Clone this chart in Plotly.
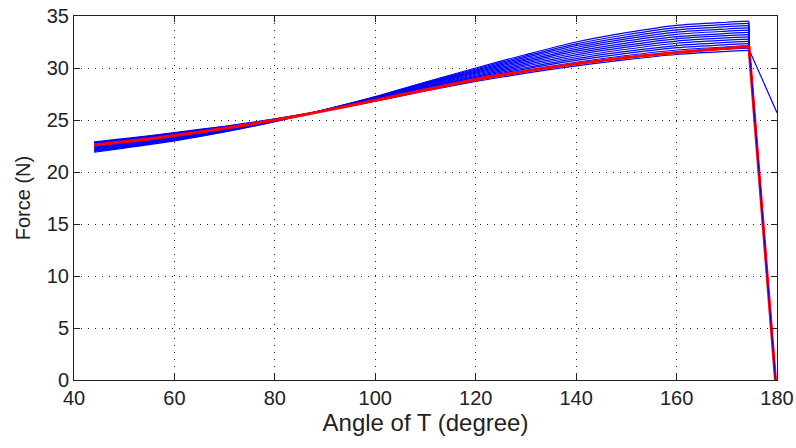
import plotly.graph_objects as go

# Angle samples (degree) shared by all curves
angle = [44, 50, 60, 70, 80, 90, 100, 110, 120, 130, 140, 150, 160, 170, 174.4]

# Blue family of force curves (N)
force_blue = [
    [22.90, 23.20, 23.80, 24.40, 25.10, 25.90, 26.80, 27.80, 28.70, 29.50, 30.20, 30.80, 31.30, 31.60, 31.70],
    [22.82, 23.13, 23.74, 24.36, 25.08, 25.91, 26.83, 27.87, 28.80, 29.64, 30.38, 31.00, 31.52, 31.82, 31.92],
    [22.75, 23.06, 23.68, 24.32, 25.06, 25.92, 26.87, 27.93, 28.90, 29.78, 30.55, 31.20, 31.73, 32.03, 32.13],
    [22.67, 22.99, 23.62, 24.27, 25.04, 25.92, 26.90, 28.00, 29.00, 29.92, 30.73, 31.40, 31.95, 32.25, 32.35],
    [22.59, 22.92, 23.55, 24.23, 25.02, 25.93, 26.94, 28.06, 29.10, 30.05, 30.91, 31.60, 32.16, 32.46, 32.56],
    [22.52, 22.85, 23.49, 24.19, 25.00, 25.94, 26.97, 28.13, 29.20, 30.19, 31.08, 31.80, 32.38, 32.68, 32.78],
    [22.44, 22.79, 23.43, 24.15, 24.98, 25.95, 27.01, 28.19, 29.30, 30.33, 31.26, 32.00, 32.59, 32.89, 32.99],
    [22.36, 22.72, 23.37, 24.10, 24.97, 25.95, 27.04, 28.26, 29.40, 30.47, 31.44, 32.20, 32.81, 33.11, 33.21],
    [22.29, 22.65, 23.31, 24.06, 24.95, 25.96, 27.08, 28.32, 29.50, 30.61, 31.62, 32.40, 33.02, 33.32, 33.42],
    [22.21, 22.58, 23.25, 24.02, 24.93, 25.97, 27.11, 28.39, 29.60, 30.75, 31.79, 32.60, 33.24, 33.54, 33.64],
    [22.13, 22.51, 23.18, 23.98, 24.91, 25.98, 27.15, 28.45, 29.70, 30.88, 31.97, 32.80, 33.45, 33.75, 33.85],
    [22.05, 22.44, 23.12, 23.94, 24.89, 25.98, 27.18, 28.52, 29.80, 31.02, 32.15, 33.00, 33.67, 33.97, 34.07],
    [21.98, 22.37, 23.06, 23.89, 24.87, 25.99, 27.22, 28.59, 29.90, 31.16, 32.32, 33.20, 33.89, 34.19, 34.29],
    [21.90, 22.30, 23.00, 23.85, 24.85, 26.00, 27.25, 28.65, 30.00, 31.30, 32.50, 33.40, 34.10, 34.40, 34.50],
]

# Drop-off tails (after the last sample of each curve)
tail_angle = [174.5, 179.7]
tail_force = [31.7, 0.0]
tail_angle_alt = [174.5, 180.0]
tail_force_alt = [31.7, 25.7]

# Red highlighted curve
force_red = [22.60, 22.90, 23.50, 24.20, 25.00, 25.90, 26.90, 27.90, 28.90, 29.70, 30.40, 31.00, 31.50, 31.90, 32.10]
red_tail_angle = [179.7]
red_tail_force = [0.0]

x_ticks = [40, 60, 80, 100, 120, 140, 160, 180]
y_ticks = [0, 5, 10, 15, 20, 25, 30, 35]

BLUE = "#0000FF"
RED = "#FF0000"
FONT = "Liberation Sans"
TXT = "#222222"

fig = go.Figure()
for i, curve in enumerate(force_blue):
    tx, ty = (tail_angle_alt, tail_force_alt) if i == 0 else (tail_angle, tail_force)
    # smooth body
    fig.add_trace(go.Scatter(x=angle, y=curve, mode="lines",
                             line=dict(color=BLUE, width=1.2, shape="spline", smoothing=0.8),
                             showlegend=False, hoverinfo="skip"))
    # straight drop-off
    fig.add_trace(go.Scatter(x=[angle[-1]] + tx, y=[curve[-1]] + ty, mode="lines",
                             line=dict(color=BLUE, width=1.2),
                             showlegend=False, hoverinfo="skip"))

fig.add_trace(go.Scatter(x=angle, y=force_red, mode="lines",
                         line=dict(color=RED, width=3, shape="spline", smoothing=0.8),
                         showlegend=False, hoverinfo="skip"))
fig.add_trace(go.Scatter(x=[angle[-1]] + red_tail_angle, y=[force_red[-1]] + red_tail_force,
                         mode="lines", line=dict(color=RED, width=3),
                         showlegend=False, hoverinfo="skip"))
# thin blue core over the red drop, as in the reference
fig.add_trace(go.Scatter(x=tail_angle, y=tail_force, mode="lines",
                         line=dict(color=BLUE, width=1),
                         showlegend=False, hoverinfo="skip"))

axis_common = dict(
    showline=True, linecolor=TXT, linewidth=1, mirror="allticks",
    ticks="inside", ticklen=6, tickcolor=TXT,
    showgrid=True, gridcolor=TXT, gridwidth=1, griddash="1px,6px",
    zeroline=False, automargin=False,
    tickfont=dict(family=FONT, size=20, color=TXT),
)

fig.update_xaxes(range=[40, 180], tickvals=x_ticks,
                 title=dict(text="Angle of T (degree)", standoff=6,
                            font=dict(family=FONT, size=24, color=TXT)),
                 **axis_common)
fig.update_yaxes(range=[0, 35], tickvals=y_ticks,
                 title=dict(text="Force (N)", standoff=10,
                            font=dict(family=FONT, size=20, color=TXT)),
                 **axis_common)

fig.update_layout(
    width=796, height=448,
    margin=dict(l=74, r=19, t=16, b=68),
    paper_bgcolor="white", plot_bgcolor="white",
    showlegend=False,
)

fig.write_html("out.html")
